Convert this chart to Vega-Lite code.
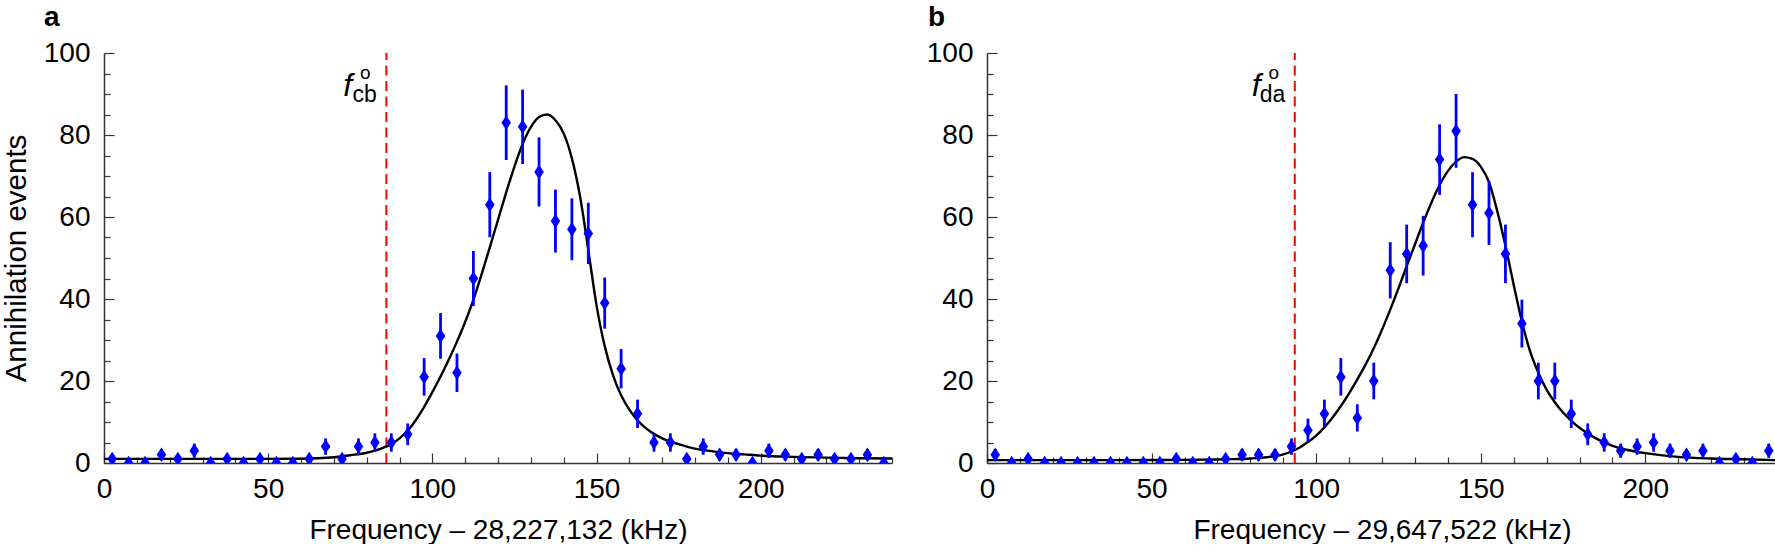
{
  "$schema": "https://vega.github.io/schema/vega-lite/v6.json",
  "padding": {"left": 1, "top": 4, "right": 0, "bottom": 0},
  "background": "white",
  "spacing": 33,
  "config": {
    "view": {"stroke": null},
    "font": "Liberation Sans",
    "axis": {
      "grid": false,
      "labelFont": "Liberation Sans",
      "titleFont": "Liberation Sans",
      "labelFontSize": 28,
      "titleFontSize": 28,
      "titleFontWeight": "normal",
      "labelColor": "#000",
      "titleColor": "#000",
      "domainColor": "#333",
      "domainWidth": 1.5,
      "tickColor": "#333",
      "tickWidth": 1.2,
      "labelFlush": false,
      "labelOverlap": false
    }
  },
  "datasets": {
    "pa": [
      {"f": 2.5, "n": 1, "lo": 0, "hi": 2}, {"f": 7.5, "n": 0, "lo": 0, "hi": 0}, {"f": 12.5, "n": 0, "lo": 0, "hi": 0},
      {"f": 17.5, "n": 2, "lo": 0.59, "hi": 3.41}, {"f": 22.5, "n": 1, "lo": 0, "hi": 2}, {"f": 27.5, "n": 3, "lo": 1.27, "hi": 4.73},
      {"f": 32.5, "n": 0, "lo": 0, "hi": 0}, {"f": 37.5, "n": 1, "lo": 0, "hi": 2}, {"f": 42.5, "n": 0, "lo": 0, "hi": 0},
      {"f": 47.5, "n": 1, "lo": 0, "hi": 2}, {"f": 52.5, "n": 0, "lo": 0, "hi": 0}, {"f": 57.5, "n": 0, "lo": 0, "hi": 0},
      {"f": 62.5, "n": 1, "lo": 0, "hi": 2}, {"f": 67.5, "n": 4, "lo": 2, "hi": 6}, {"f": 72.5, "n": 1, "lo": 0, "hi": 2},
      {"f": 77.5, "n": 4, "lo": 2, "hi": 6}, {"f": 82.5, "n": 5, "lo": 2.76, "hi": 7.24}, {"f": 87.5, "n": 5, "lo": 2.76, "hi": 7.24},
      {"f": 92.5, "n": 7, "lo": 4.35, "hi": 9.65}, {"f": 97.5, "n": 21, "lo": 16.42, "hi": 25.58}, {"f": 102.5, "n": 31, "lo": 25.43, "hi": 36.57},
      {"f": 107.5, "n": 22, "lo": 17.31, "hi": 26.69}, {"f": 112.5, "n": 45, "lo": 38.29, "hi": 51.71}, {"f": 117.5, "n": 63, "lo": 55.06, "hi": 70.94},
      {"f": 122.5, "n": 83, "lo": 73.89, "hi": 92.11}, {"f": 127.5, "n": 82, "lo": 72.94, "hi": 91.06}, {"f": 132.5, "n": 71, "lo": 62.57, "hi": 79.43},
      {"f": 137.5, "n": 59, "lo": 51.32, "hi": 66.68}, {"f": 142.5, "n": 57, "lo": 49.45, "hi": 64.55}, {"f": 147.5, "n": 56, "lo": 48.52, "hi": 63.48},
      {"f": 152.5, "n": 39, "lo": 32.76, "hi": 45.24}, {"f": 157.5, "n": 23, "lo": 18.2, "hi": 27.8}, {"f": 162.5, "n": 12, "lo": 8.54, "hi": 15.46},
      {"f": 167.5, "n": 5, "lo": 2.76, "hi": 7.24}, {"f": 172.5, "n": 5, "lo": 2.76, "hi": 7.24}, {"f": 177.5, "n": 1, "lo": 0, "hi": 2},
      {"f": 182.5, "n": 4, "lo": 2, "hi": 6}, {"f": 187.5, "n": 2, "lo": 0.59, "hi": 3.41}, {"f": 192.5, "n": 2, "lo": 0.59, "hi": 3.41},
      {"f": 197.5, "n": 0, "lo": 0, "hi": 0}, {"f": 202.5, "n": 3, "lo": 1.27, "hi": 4.73}, {"f": 207.5, "n": 2, "lo": 0.59, "hi": 3.41},
      {"f": 212.5, "n": 1, "lo": 0, "hi": 2}, {"f": 217.5, "n": 2, "lo": 0.59, "hi": 3.41}, {"f": 222.5, "n": 1, "lo": 0, "hi": 2},
      {"f": 227.5, "n": 1, "lo": 0, "hi": 2}, {"f": 232.5, "n": 2, "lo": 0.59, "hi": 3.41}, {"f": 237.5, "n": 0, "lo": 0, "hi": 0}
    ],
    "pb": [
      {"f": 2.5, "n": 2, "lo": 0.59, "hi": 3.41}, {"f": 7.5, "n": 0, "lo": 0, "hi": 0}, {"f": 12.5, "n": 1, "lo": 0, "hi": 2},
      {"f": 17.5, "n": 0, "lo": 0, "hi": 0}, {"f": 22.5, "n": 0, "lo": 0, "hi": 0}, {"f": 27.5, "n": 0, "lo": 0, "hi": 0},
      {"f": 32.5, "n": 0, "lo": 0, "hi": 0}, {"f": 37.5, "n": 0, "lo": 0, "hi": 0}, {"f": 42.5, "n": 0, "lo": 0, "hi": 0},
      {"f": 47.5, "n": 0, "lo": 0, "hi": 0}, {"f": 52.5, "n": 0, "lo": 0, "hi": 0}, {"f": 57.5, "n": 1, "lo": 0, "hi": 2},
      {"f": 62.5, "n": 0, "lo": 0, "hi": 0}, {"f": 67.5, "n": 0, "lo": 0, "hi": 0}, {"f": 72.5, "n": 1, "lo": 0, "hi": 2},
      {"f": 77.5, "n": 2, "lo": 0.59, "hi": 3.41}, {"f": 82.5, "n": 2, "lo": 0.59, "hi": 3.41}, {"f": 87.5, "n": 2, "lo": 0.59, "hi": 3.41},
      {"f": 92.5, "n": 4, "lo": 2, "hi": 6}, {"f": 97.5, "n": 8, "lo": 5.17, "hi": 10.83}, {"f": 102.5, "n": 12, "lo": 8.54, "hi": 15.46},
      {"f": 107.5, "n": 21, "lo": 16.42, "hi": 25.58}, {"f": 112.5, "n": 11, "lo": 7.68, "hi": 14.32}, {"f": 117.5, "n": 20, "lo": 15.53, "hi": 24.47},
      {"f": 122.5, "n": 47, "lo": 40.14, "hi": 53.86}, {"f": 127.5, "n": 51, "lo": 43.86, "hi": 58.14}, {"f": 132.5, "n": 53, "lo": 45.72, "hi": 60.28},
      {"f": 137.5, "n": 74, "lo": 65.4, "hi": 82.6}, {"f": 142.5, "n": 81, "lo": 72, "hi": 90}, {"f": 147.5, "n": 63, "lo": 55.06, "hi": 70.94},
      {"f": 152.5, "n": 61, "lo": 53.19, "hi": 68.81}, {"f": 157.5, "n": 51, "lo": 43.86, "hi": 58.14}, {"f": 162.5, "n": 34, "lo": 28.17, "hi": 39.83},
      {"f": 167.5, "n": 20, "lo": 15.53, "hi": 24.47}, {"f": 172.5, "n": 20, "lo": 15.53, "hi": 24.47}, {"f": 177.5, "n": 12, "lo": 8.54, "hi": 15.46},
      {"f": 182.5, "n": 7, "lo": 4.35, "hi": 9.65}, {"f": 187.5, "n": 5, "lo": 2.76, "hi": 7.24}, {"f": 192.5, "n": 3, "lo": 1.27, "hi": 4.73},
      {"f": 197.5, "n": 4, "lo": 2, "hi": 6}, {"f": 202.5, "n": 5, "lo": 2.76, "hi": 7.24}, {"f": 207.5, "n": 3, "lo": 1.27, "hi": 4.73},
      {"f": 212.5, "n": 2, "lo": 0.59, "hi": 3.41}, {"f": 217.5, "n": 3, "lo": 1.27, "hi": 4.73}, {"f": 222.5, "n": 0, "lo": 0, "hi": 0},
      {"f": 227.5, "n": 1, "lo": 0, "hi": 2}, {"f": 232.5, "n": 0, "lo": 0, "hi": 0}, {"f": 237.5, "n": 3, "lo": 1.27, "hi": 4.73}
    ],
    "ca": [
      {"f": 0, "n": 1.0}, {"f": 20, "n": 1.0}, {"f": 40, "n": 1.0}, {"f": 60, "n": 1.05}, {"f": 65, "n": 1.15}, {"f": 70, "n": 1.4},
      {"f": 75, "n": 1.9}, {"f": 80, "n": 2.5}, {"f": 82.5, "n": 3.0}, {"f": 85, "n": 3.7}, {"f": 87.5, "n": 4.6}, {"f": 90, "n": 6.0},
      {"f": 92.5, "n": 7.9}, {"f": 95, "n": 10.5}, {"f": 97.5, "n": 13.7}, {"f": 100, "n": 17.3}, {"f": 102.5, "n": 21.1}, {"f": 105, "n": 25.2},
      {"f": 107.5, "n": 29.6}, {"f": 110, "n": 34.4}, {"f": 112.5, "n": 39.8}, {"f": 115, "n": 46.0}, {"f": 117.5, "n": 52.6}, {"f": 120, "n": 59.3},
      {"f": 122.5, "n": 66}, {"f": 125, "n": 72.3}, {"f": 127.5, "n": 77.8}, {"f": 130, "n": 81.9}, {"f": 132.5, "n": 84.4}, {"f": 135, "n": 85},
      {"f": 137.5, "n": 83.6}, {"f": 140, "n": 80.4}, {"f": 142.5, "n": 74.3}, {"f": 145, "n": 65}, {"f": 147.5, "n": 52}, {"f": 150, "n": 38.5},
      {"f": 152.5, "n": 28.5}, {"f": 155, "n": 21.5}, {"f": 157.5, "n": 16.5}, {"f": 160, "n": 13}, {"f": 162.5, "n": 10.4}, {"f": 165, "n": 8.5},
      {"f": 167.5, "n": 7.1}, {"f": 170, "n": 6.0}, {"f": 172.5, "n": 5.2}, {"f": 175, "n": 4.6}, {"f": 180, "n": 3.5}, {"f": 185, "n": 2.9},
      {"f": 190, "n": 2.4}, {"f": 195, "n": 2.1}, {"f": 200, "n": 1.8}, {"f": 210, "n": 1.5}, {"f": 220, "n": 1.3}, {"f": 230, "n": 1.15}, {"f": 240, "n": 1.1}
    ],
    "cbfit": [
      {"f": 0, "n": 0.7}, {"f": 40, "n": 0.7}, {"f": 60, "n": 0.75}, {"f": 70, "n": 0.85}, {"f": 75, "n": 0.95}, {"f": 80, "n": 1.1},
      {"f": 85, "n": 1.4}, {"f": 90, "n": 2.1}, {"f": 92.5, "n": 2.8}, {"f": 95, "n": 3.8}, {"f": 97.5, "n": 5.1}, {"f": 100, "n": 6.7},
      {"f": 102.5, "n": 8.7}, {"f": 105, "n": 11.1}, {"f": 107.5, "n": 13.9}, {"f": 110, "n": 17.0}, {"f": 112.5, "n": 20.4}, {"f": 115, "n": 24.0},
      {"f": 117.5, "n": 28.0}, {"f": 120, "n": 32.5}, {"f": 122.5, "n": 37.4}, {"f": 125, "n": 42.6}, {"f": 127.5, "n": 48.0}, {"f": 130, "n": 53.3},
      {"f": 132.5, "n": 58.6}, {"f": 135, "n": 63.5}, {"f": 137.5, "n": 67.8}, {"f": 140, "n": 71.2}, {"f": 142.5, "n": 73.5}, {"f": 145, "n": 74.6},
      {"f": 147.5, "n": 74.2}, {"f": 150, "n": 72.3}, {"f": 152.5, "n": 68.5}, {"f": 155, "n": 61.5}, {"f": 157.5, "n": 53}, {"f": 160, "n": 43.5},
      {"f": 162.5, "n": 34.5}, {"f": 165, "n": 27.2}, {"f": 167.5, "n": 22.0}, {"f": 170, "n": 17.9}, {"f": 172.5, "n": 14.8}, {"f": 175, "n": 12.3},
      {"f": 177.5, "n": 10.3}, {"f": 180, "n": 8.6}, {"f": 182.5, "n": 7.2}, {"f": 185, "n": 6.0}, {"f": 190, "n": 4.2}, {"f": 195, "n": 3.1},
      {"f": 200, "n": 2.4}, {"f": 210, "n": 1.5}, {"f": 220, "n": 1.1}, {"f": 230, "n": 0.9}, {"f": 240, "n": 0.7}
    ],
    "markA": [{"f": 86, "x0": 0, "y0": 0, "top": 100, "panel": "a", "main": "f", "sub": "cb", "sup": "o"}],
    "markB": [{"f": 93.5, "x0": 0, "y0": 0, "top": 100, "panel": "b", "main": "f", "sub": "da", "sup": "o"}]
  },
  "hconcat": [
    {
      "width": 788,
      "height": 410,
      "encoding": {
        "x": {
          "field": "f", "type": "quantitative",
          "scale": {"domain": [0, 240], "nice": false, "zero": false},
          "axis": {
            "title": "Frequency – 28,227,132 (kHz)",
            "values": [0, 10, 20, 30, 40, 50, 60, 70, 80, 90, 100, 110, 120, 130, 140, 150, 160, 170, 180, 190, 200, 210, 220, 230, 240],
            "labelExpr": "datum.value % 50 === 0 ? datum.label : ''",
            "tickSize": {"condition": {"test": "datum.value % 50 === 0", "value": -10}, "value": -6},
            "labelPadding": 22,
            "titlePadding": 9
          }
        },
        "y": {
          "field": "n", "type": "quantitative",
          "scale": {"domain": [0, 100], "nice": false},
          "axis": {
            "title": "Annihilation events",
            "titleFontSize": 29.5,
            "values": [0, 5, 10, 15, 20, 25, 30, 35, 40, 45, 50, 55, 60, 65, 70, 75, 80, 85, 90, 95, 100],
            "labelExpr": "datum.value % 20 === 0 ? datum.label : ''",
            "tickSize": {"condition": {"test": "datum.value % 20 === 0", "value": -10}, "value": -6},
            "labelPadding": 24,
            "titlePadding": 12
          }
        }
      },
      "layer": [
        {"data": {"name": "markA"}, "mark": {"type": "rule", "color": "#ff0000", "strokeWidth": 2, "strokeDash": [10, 5.5]},
         "encoding": {"y": {"field": "y0", "type": "quantitative"}, "y2": {"field": "top"}}},
        {"data": {"name": "ca"}, "mark": {"type": "line", "color": "#000", "strokeWidth": 2.4, "interpolate": "monotone", "clip": true}, "encoding": {}},
        {"data": {"name": "pa"}, "mark": {"type": "rule", "color": "#0000ff", "strokeWidth": 2.8, "clip": true},
         "encoding": {"y": {"field": "lo", "type": "quantitative"}, "y2": {"field": "hi"}}},
        {"data": {"name": "pa"}, "mark": {"type": "point", "shape": "M0,-1L0.66,0L0,1L-0.66,0Z", "filled": true, "color": "#0000ff", "size": 210, "opacity": 1, "clip": true}, "encoding": {}},
        {"data": {"name": "markA"}, "mark": {"type": "text", "align": "left", "baseline": "alphabetic", "dx": -43, "dy": 43, "fontSize": 32, "fontStyle": "italic", "color": "#000"},
         "encoding": {"y": {"field": "top", "type": "quantitative"}, "text": {"field": "main"}}},
        {"data": {"name": "markA"}, "mark": {"type": "text", "align": "right", "baseline": "alphabetic", "dx": -9.5, "dy": 49, "fontSize": 23, "color": "#000"},
         "encoding": {"y": {"field": "top", "type": "quantitative"}, "text": {"field": "sub"}}},
        {"data": {"name": "markA"}, "mark": {"type": "text", "align": "center", "baseline": "alphabetic", "dx": -21, "dy": 25.6, "fontSize": 19, "color": "#000"},
         "encoding": {"y": {"field": "top", "type": "quantitative"}, "text": {"field": "sup"}}},
        {"data": {"name": "markA"}, "mark": {"type": "text", "align": "left", "baseline": "alphabetic", "dx": -60, "dy": -27, "fontSize": 28, "fontWeight": "bold", "color": "#000"},
         "encoding": {"x": {"field": "x0", "type": "quantitative"}, "y": {"field": "top", "type": "quantitative"}, "text": {"field": "panel"}}}
      ]
    },
    {
      "width": 790,
      "height": 410,
      "encoding": {
        "x": {
          "field": "f", "type": "quantitative",
          "scale": {"domain": [0, 240], "nice": false, "zero": false},
          "axis": {
            "title": "Frequency – 29,647,522 (kHz)",
            "values": [0, 10, 20, 30, 40, 50, 60, 70, 80, 90, 100, 110, 120, 130, 140, 150, 160, 170, 180, 190, 200, 210, 220, 230, 240],
            "labelExpr": "datum.value % 50 === 0 ? datum.label : ''",
            "tickSize": {"condition": {"test": "datum.value % 50 === 0", "value": -10}, "value": -6},
            "labelPadding": 22,
            "titlePadding": 9
          }
        },
        "y": {
          "field": "n", "type": "quantitative",
          "scale": {"domain": [0, 100], "nice": false},
          "axis": {
            "title": null,
            "values": [0, 5, 10, 15, 20, 25, 30, 35, 40, 45, 50, 55, 60, 65, 70, 75, 80, 85, 90, 95, 100],
            "labelExpr": "datum.value % 20 === 0 ? datum.label : ''",
            "tickSize": {"condition": {"test": "datum.value % 20 === 0", "value": -10}, "value": -6},
            "labelPadding": 24
          }
        }
      },
      "layer": [
        {"data": {"name": "markB"}, "mark": {"type": "rule", "color": "#ff0000", "strokeWidth": 2, "strokeDash": [10, 5.5]},
         "encoding": {"y": {"field": "y0", "type": "quantitative"}, "y2": {"field": "top"}}},
        {"data": {"name": "cbfit"}, "mark": {"type": "line", "color": "#000", "strokeWidth": 2.4, "interpolate": "monotone", "clip": true}, "encoding": {}},
        {"data": {"name": "pb"}, "mark": {"type": "rule", "color": "#0000ff", "strokeWidth": 2.8, "clip": true},
         "encoding": {"y": {"field": "lo", "type": "quantitative"}, "y2": {"field": "hi"}}},
        {"data": {"name": "pb"}, "mark": {"type": "point", "shape": "M0,-1L0.66,0L0,1L-0.66,0Z", "filled": true, "color": "#0000ff", "size": 210, "opacity": 1, "clip": true}, "encoding": {}},
        {"data": {"name": "markB"}, "mark": {"type": "text", "align": "left", "baseline": "alphabetic", "dx": -43, "dy": 43, "fontSize": 32, "fontStyle": "italic", "color": "#000"},
         "encoding": {"y": {"field": "top", "type": "quantitative"}, "text": {"field": "main"}}},
        {"data": {"name": "markB"}, "mark": {"type": "text", "align": "right", "baseline": "alphabetic", "dx": -9.5, "dy": 49, "fontSize": 23, "color": "#000"},
         "encoding": {"y": {"field": "top", "type": "quantitative"}, "text": {"field": "sub"}}},
        {"data": {"name": "markB"}, "mark": {"type": "text", "align": "center", "baseline": "alphabetic", "dx": -21, "dy": 25.6, "fontSize": 19, "color": "#000"},
         "encoding": {"y": {"field": "top", "type": "quantitative"}, "text": {"field": "sup"}}},
        {"data": {"name": "markB"}, "mark": {"type": "text", "align": "left", "baseline": "alphabetic", "dx": -59, "dy": -27, "fontSize": 28, "fontWeight": "bold", "color": "#000"},
         "encoding": {"x": {"field": "x0", "type": "quantitative"}, "y": {"field": "top", "type": "quantitative"}, "text": {"field": "panel"}}}
      ]
    }
  ]
}
